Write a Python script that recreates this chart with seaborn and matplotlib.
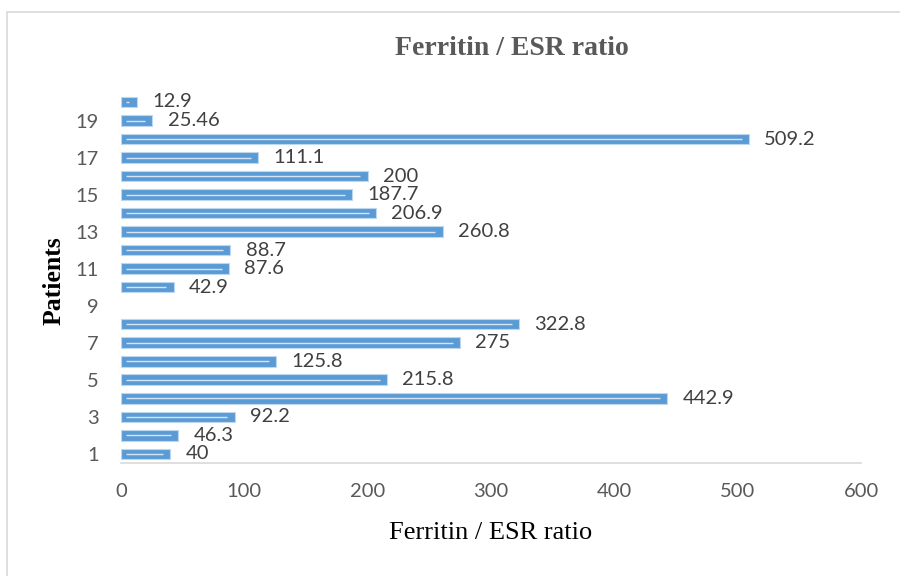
import numpy as np
import pandas as pd
import seaborn as sns
import matplotlib.pyplot as plt
from matplotlib.patches import Rectangle

# patient number -> Ferritin / ESR ratio (patient 9 has no value)
patients = [str(i) for i in range(1, 21)]
ratios = [40, 46.3, 92.2, 442.9, 215.8, 125.8, 275, 322.8, np.nan, 42.9,
          87.6, 88.7, 260.8, 206.9, 187.7, 200, 111.1, 509.2, 25.46, 12.9]
value_labels = ["40", "46.3", "92.2", "442.9", "215.8", "125.8", "275", "322.8", "",
                "42.9", "87.6", "88.7", "260.8", "206.9", "187.7", "200", "111.1",
                "509.2", "25.46", "12.9"]
shown_ticks = [str(i) for i in range(1, 21, 2)]
x_ticks = [0, 100, 200, 300, 400, 500, 600]

df = pd.DataFrame({"patient": patients, "ratio": ratios, "label": value_labels})
order = patients[::-1]  # patient 20 on top
plot_df = df.dropna(subset=["ratio"])

sns.set_style("white")
plt.rcParams['font.family'] = ['Lato', 'DejaVu Sans']

fig = plt.figure(figsize=(9, 5.76), dpi=100)
ax = fig.add_axes([0.1344, 0.196, 0.8223, 0.643])

sns.barplot(data=plot_df, x="ratio", y="patient", order=order, orient="h",
            color="#5B9BD5", saturation=1, width=0.57,
            edgecolor="#BDD7EE", linewidth=0.8, ax=ax)

# thin light line running along the middle of each bar
for p in ax.patches:
    w = p.get_width()
    yc = p.get_y() + p.get_height() / 2
    ax.plot([p.get_x() + 4, p.get_x() + w - 6], [yc, yc], color="#EAF2FA",
            lw=1.0, alpha=0.85, solid_capstyle="butt")

lab_map = dict(zip(patients, value_labels))
cont = ax.containers[0]
labs = [lab_map[order[int(round(b.get_y() + b.get_height() / 2))]] for b in cont]
ax.bar_label(cont, labels=labs, padding=11, fontsize=14.5, color="#404040")

ax.set_xlim(0, 600)
ax.set_ylim(len(order) - 0.5, -0.5)
ax.set_xticks(x_ticks)
ax.set_xticklabels([str(t) for t in x_ticks], fontsize=14.5, color="#595959")
ax.set_yticks([order.index(t) for t in shown_ticks])
ax.set_yticklabels(shown_ticks, fontsize=14.5, color="#595959")
ax.tick_params(axis="both", length=0)
ax.tick_params(axis="x", pad=14)
ax.tick_params(axis="y", pad=16)

for s in ["top", "right", "left"]:
    ax.spines[s].set_visible(False)
ax.spines["bottom"].set_color("#D9D9D9")
ax.spines["bottom"].set_linewidth(1.2)

ax.set_xlabel("Ferritin / ESR ratio", fontsize=19, family="Liberation Serif",
              color="black", va="center")
ax.xaxis.set_label_coords(0.5, -0.19)
ax.set_ylabel("Patients", fontsize=18.5, family="Liberation Serif",
              fontweight="bold", color="black", va="center")
ax.yaxis.set_label_coords(-0.09, 0.494)

fig.text(0.569, 0.916, "Ferritin / ESR ratio", ha="center", va="center",
         fontsize=20, family="Liberation Serif", fontweight="bold", color="#595959")

# outer chart border
fig.patches.append(Rectangle((0.008, -0.01), 1.1, 0.99, transform=fig.transFigure,
                             fill=False, edgecolor="#D9D9D9", lw=1.2))

fig.savefig("out.png", dpi=100)
